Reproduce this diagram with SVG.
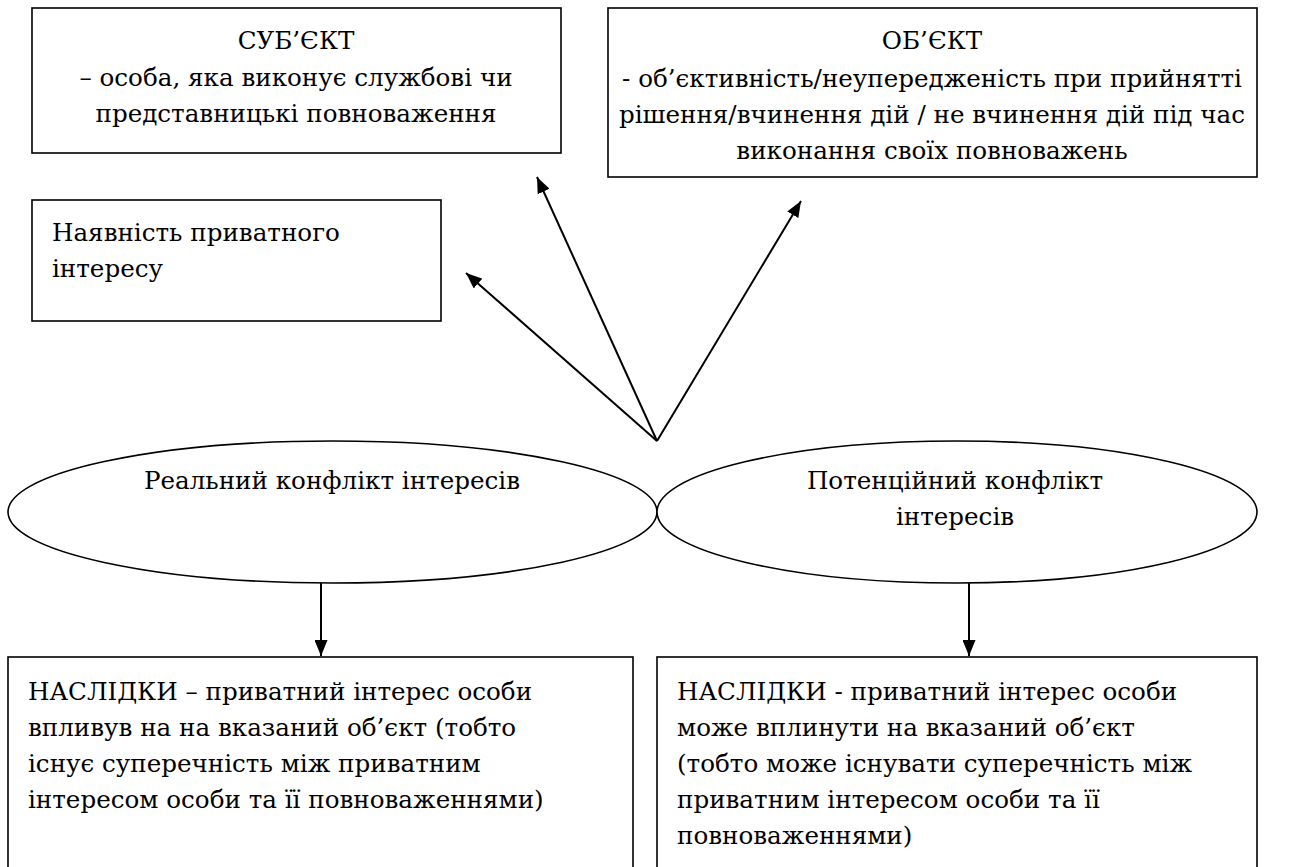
<svg xmlns="http://www.w3.org/2000/svg" width="1310" height="867" viewBox="0 0 1310 867">
<defs>
<style>
.box{fill:#fff;stroke:#000;stroke-width:1.6}
text{font-family:"DejaVu Serif","Liberation Serif",serif;font-size:24.6px;fill:#000}
.c{text-anchor:middle}
.con{stroke:#000;stroke-width:2;fill:none;marker-end:url(#ah)}
</style>
<marker id="ah" viewBox="0 0 16 13" refX="16" refY="6.5" markerWidth="16" markerHeight="13" markerUnits="userSpaceOnUse" orient="auto">
<path d="M0,0 L16,6.5 L0,13 z" fill="#000"/>
</marker>
</defs>
<rect width="1310" height="867" fill="#fff"/>
<g id="subject">
<rect class="box" x="32" y="8" width="529" height="145"/>
<text class="c" x="296" y="49">СУБ’ЄКТ</text>
<text class="c" x="296" y="86">– особа, яка виконує службові чи</text>
<text class="c" x="296" y="122">представницькі повноваження</text>
</g>
<g id="private">
<rect class="box" x="32" y="200" width="409" height="121"/>
<text x="52" y="241">Наявність приватного</text>
<text x="52" y="277">інтересу</text>
</g>
<g id="object">
<rect class="box" x="608" y="8" width="649" height="169"/>
<text class="c" x="932" y="49">ОБ’ЄКТ</text>
<text class="c" x="932" y="87">- об’єктивність/неупередженість при прийнятті</text>
<text class="c" x="932" y="123">рішення/вчинення дій / не вчинення дій під час</text>
<text class="c" x="932" y="159">виконання своїх повноважень</text>
</g>
<g id="real">
<ellipse class="box" cx="332.5" cy="512" rx="324.5" ry="71"/>
<text class="c" x="332" y="489">Реальний конфлікт інтересів</text>
</g>
<g id="potential">
<ellipse class="box" cx="957" cy="512" rx="300" ry="71"/>
<text class="c" x="955" y="489">Потенційний конфлікт</text>
<text class="c" x="955" y="525">інтересів</text>
</g>
<g id="result-real">
<rect class="box" x="8" y="657" width="625" height="215"/>
<text x="28" y="700">НАСЛІДКИ – приватний інтерес особи</text>
<text x="28" y="736">впливув на на вказаний об’єкт (тобто</text>
<text x="28" y="772">існує суперечність між приватним</text>
<text x="28" y="808">інтересом особи та її повноваженнями)</text>
</g>
<g id="result-potential">
<rect class="box" x="657" y="657" width="600" height="215"/>
<text x="677" y="700">НАСЛІДКИ - приватний інтерес особи</text>
<text x="677" y="736">може вплинути на вказаний об’єкт</text>
<text x="677" y="772">(тобто може існувати суперечність між</text>
<text x="677" y="808">приватним інтересом особи та її</text>
<text x="677" y="844">повноваженнями)</text>
</g>
<g id="connectors">
<line class="con" x1="657" y1="441" x2="466" y2="273"/>
<line class="con" x1="657" y1="441" x2="537" y2="177"/>
<line class="con" x1="657" y1="441" x2="801" y2="201"/>
<line class="con" x1="321" y1="583" x2="321" y2="656"/>
<line class="con" x1="969" y1="583" x2="969" y2="656"/>
</g>
</svg>
